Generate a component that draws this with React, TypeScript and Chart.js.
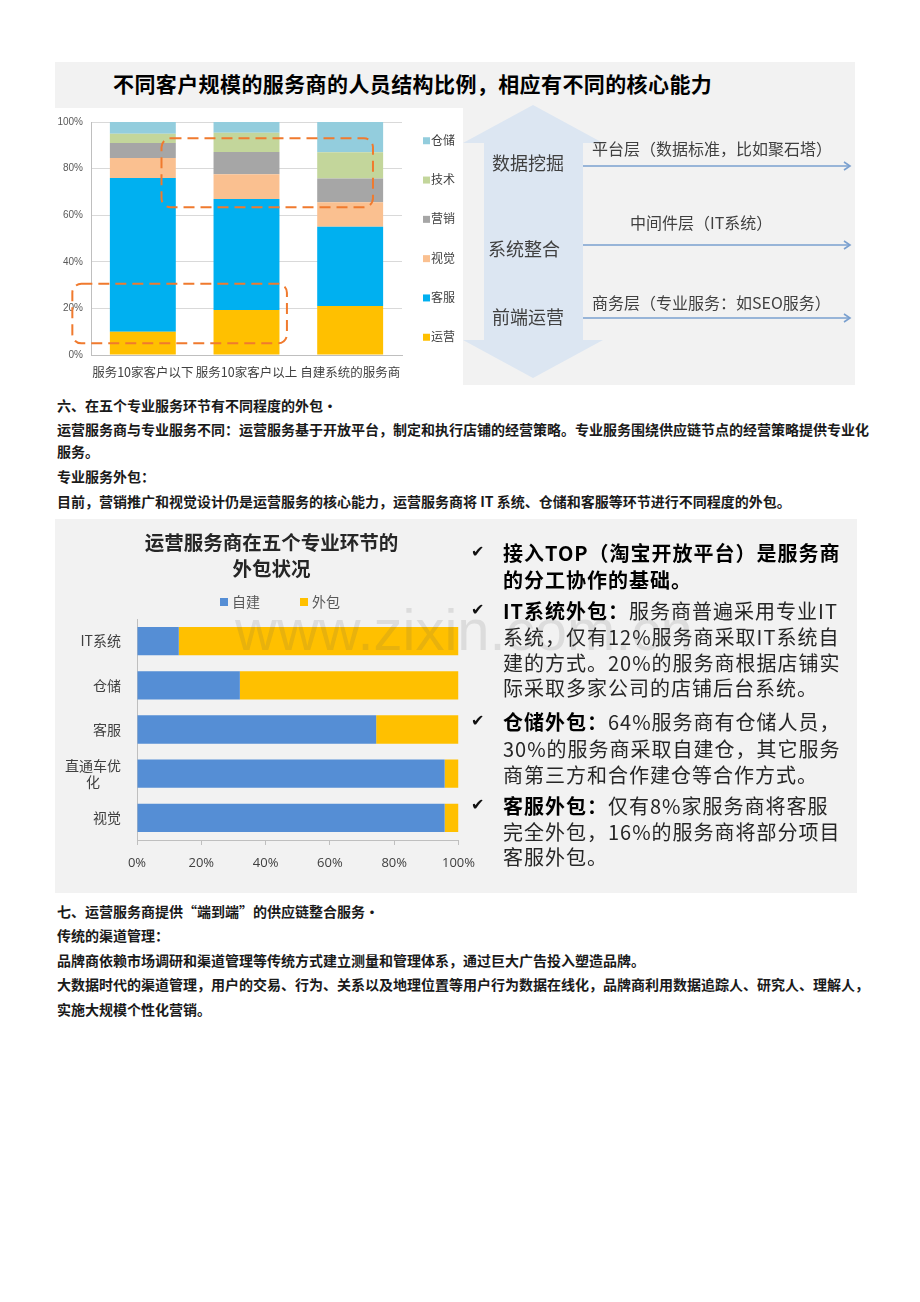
import React, { useEffect, useRef } from 'react';
import { Chart, registerables } from 'chart.js';

Chart.register(...registerables);

const CJK = "'Noto Sans CJK SC', 'Noto Sans', sans-serif";

// ---- Chart 1: staff structure (stacked 100% columns) ----
const staffCategories = ['服务10家客户以下', '服务10家客户以上', '自建系统的服务商'];
const opsShare = [10, 19.3, 21];
const serviceShare = [66, 47.6, 34];
const visualShare = [8.5, 10.7, 10.6];
const marketingShare = [6.5, 9.5, 10.1];
const techShare = [4, 8.3, 11.3];
const warehouseShare = [5, 4.6, 13];
const staffSeriesNames = ['运营', '客服', '视觉', '营销', '技术', '仓储'];
const staffColors = ['#FFC000', '#00B0F0', '#FAC090', '#A6A6A6', '#C3D69B', '#93CDDD'];

// highlight boxes (category index range, value range)
const highlightBoxes = [
  { x0: -0.68, x1: 1.39, y0: 5, y1: 30.6 },
  { x0: 0.18, x1: 2.22, y0: 63.4, y1: 93 },
];

// ---- Chart 2: outsourcing (stacked 100% horizontal bars) ----
const outsourceTitle = ['运营服务商在五个专业环节的', '外包状况'];
const outsourceCategories: (string | string[])[] = ['IT系统', '仓储', '客服', ['直通车优', '化\u3000\u2002'], '视觉'];
const selfBuilt = [13, 32, 74.4, 95.7, 95.7];
const outsourced = [87, 68, 25.6, 4.3, 4.3];
const outsourceSeriesNames = ['自建', '外包'];
const outsourceColors = ['#558ED5', '#FFC000'];

const pctTicks = (v: any) => v + '%';

function Txt(props: { x: number; cy: number; size: number; bold?: boolean; color?: string; ls?: number; children: React.ReactNode; family?: string }) {
  const lh = Math.round(props.size * 1.4);
  return (
    <div
      style={{
        position: 'absolute',
        left: props.x,
        top: props.cy - lh / 2,
        fontSize: props.size,
        lineHeight: lh + 'px',
        fontWeight: props.bold ? 'bold' : 'normal',
        color: props.color || '#000',
        letterSpacing: props.ls ? props.ls + 'px' : undefined,
        whiteSpace: 'nowrap',
        fontFamily: props.family || CJK,
      }}
    >
      {props.children}
    </div>
  );
}

function StaffChart() {
  const ref = useRef<HTMLCanvasElement>(null);
  useEffect(() => {
    if (!ref.current) return;
    const overlay = {
      id: 'staffOverlay',
      afterDatasetsDraw(chart: any) {
        const { ctx, chartArea, scales } = chart;
        ctx.save();
        ctx.strokeStyle = '#F07A2E';
        ctx.lineWidth = 2;
        ctx.setLineDash([11, 6]);
        for (const b of highlightBoxes) {
          const x0 = scales.x.getPixelForValue(b.x0);
          const x1 = scales.x.getPixelForValue(b.x1);
          const yTop = scales.y.getPixelForValue(b.y1);
          const yBot = scales.y.getPixelForValue(b.y0);
          ctx.beginPath();
          ctx.roundRect(x0, yTop, x1 - x0, yBot - yTop, 9);
          ctx.stroke();
        }
        ctx.restore();
        // legend (reversed order, vertical)
        ctx.save();
        const ds = chart.data.datasets;
        const n = ds.length;
        const mid = (chartArea.top + chartArea.bottom) / 2;
        const bx = chartArea.right + 21;
        ctx.font = `12px ${CJK}`;
        ctx.textBaseline = 'middle';
        ctx.textAlign = 'left';
        for (let i = 0; i < n; i++) {
          const d = ds[n - 1 - i];
          const y = mid + (i - (n - 1) / 2) * 39.3;
          ctx.fillStyle = d.backgroundColor;
          ctx.fillRect(bx, y - 3, 7, 7);
          ctx.fillStyle = '#404040';
          ctx.fillText(d.label, bx + 8, y);
        }
        ctx.restore();
      },
    };
    const seriesData = [opsShare, serviceShare, visualShare, marketingShare, techShare, warehouseShare];
    const chart = new Chart(ref.current, {
      type: 'bar',
      data: {
        labels: staffCategories,
        datasets: seriesData.map((d, i) => ({
          label: staffSeriesNames[i],
          data: d,
          backgroundColor: staffColors[i],
          borderWidth: 0,
          barPercentage: 0.636,
          categoryPercentage: 1,
        })),
      },
      options: {
        animation: false,
        responsive: false,
        maintainAspectRatio: false,
        layout: { padding: { top: 8, right: 61, left: 0, bottom: 0 } },
        plugins: { legend: { display: false }, tooltip: { enabled: false }, title: { display: false } },
        scales: {
          x: {
            stacked: true,
            grid: { display: false, drawTicks: false },
            border: { display: true, color: '#bfbfbf' },
            ticks: { font: { size: 12.5, family: CJK }, color: '#404040', padding: 10, maxRotation: 0, minRotation: 0, autoSkip: false },
            afterFit: (s: any) => { s.height = 30; },
          },
          y: {
            stacked: true,
            min: 0,
            max: 100,
            ticks: { stepSize: 20, callback: pctTicks, font: { size: 10, family: 'Liberation Sans' }, color: '#595959', padding: 8 },
            grid: { color: '#d9d9d9', drawTicks: false },
            border: { display: true, color: '#bfbfbf' },
            afterFit: (s: any) => { s.width = 36; },
          },
        },
      },
      plugins: [overlay],
    } as any);
    return () => chart.destroy();
  }, []);
  return (
    <canvas
      ref={ref}
      width={408}
      height={277}
      style={{ position: 'absolute', left: 55, top: 108, width: 408, height: 277, background: '#fff' }}
    />
  );
}

function OutsourceChart() {
  const ref = useRef<HTMLCanvasElement>(null);
  useEffect(() => {
    if (!ref.current) return;
    const overlay = {
      id: 'outsourceOverlay',
      afterDraw(chart: any) {
        const { ctx } = chart;
        ctx.save();
        ctx.fillStyle = '#262626';
        ctx.font = `bold 19.5px ${CJK}`;
        ctx.textAlign = 'center';
        ctx.textBaseline = 'middle';
        outsourceTitle.forEach((t, i) => ctx.fillText(t, 216.5, 24 + i * 25.2));
        const ds = chart.data.datasets;
        const pos = [165, 245];
        ctx.font = `14px ${CJK}`;
        ctx.textAlign = 'left';
        ds.forEach((d: any, i: number) => {
          ctx.fillStyle = d.backgroundColor;
          ctx.fillRect(pos[i], 79, 8, 8);
          ctx.fillStyle = '#595959';
          ctx.fillText(d.label, pos[i] + 12, 83);
        });
        ctx.restore();
      },
    };
    const chart = new Chart(ref.current, {
      type: 'bar',
      data: {
        labels: outsourceCategories,
        datasets: [selfBuilt, outsourced].map((d, i) => ({
          label: outsourceSeriesNames[i],
          data: d,
          backgroundColor: outsourceColors[i],
          borderWidth: 0,
          barPercentage: 0.64,
          categoryPercentage: 1,
        })),
      },
      options: {
        indexAxis: 'y',
        animation: false,
        responsive: false,
        maintainAspectRatio: false,
        layout: { padding: { top: 100, right: 23, left: 0, bottom: 0 } },
        plugins: { legend: { display: false }, tooltip: { enabled: false }, title: { display: false } },
        scales: {
          x: {
            stacked: true,
            min: 0,
            max: 100,
            ticks: { stepSize: 20, callback: pctTicks, font: { size: 13, family: 'Open Sans' }, color: '#404040', padding: 10 },
            grid: { display: true, drawOnChartArea: false, drawTicks: true, tickLength: 5, color: '#bfbfbf' },
            border: { display: true, color: '#bfbfbf' },
            afterFit: (s: any) => { s.height = 53; },
          },
          y: {
            stacked: true,
            grid: { display: false, drawTicks: false },
            border: { display: true, color: '#bfbfbf' },
            ticks: { font: { size: 14, family: CJK }, color: '#404040', padding: 16 },
            afterFit: (s: any) => { s.width = 82; },
          },
        },
      },
      plugins: [overlay],
    } as any);
    return () => chart.destroy();
  }, []);
  return (
    <canvas
      ref={ref}
      width={430}
      height={374}
      style={{ position: 'absolute', left: 55, top: 519, width: 430, height: 374 }}
    />
  );
}

function LayerDiagram() {
  const arrowYs = [66, 145, 218];
  return (
    <svg width={410} height={290} style={{ position: 'absolute', left: 455, top: 100 }}>
      <polygon
        points="78,5 148,43 128,43 128,240 148,240 78,278 8,240 29,240 29,43 8,43"
        fill="#DCE6F2"
      />
      {arrowYs.map((y) => (
        <g key={y}>
          <line x1={128} y1={y} x2={394} y2={y} stroke="#7AA0CF" strokeWidth={1.6} />
          <polyline points={`${389},${y - 4} ${395},${y} ${389},${y + 4}`} fill="none" stroke="#7AA0CF" strokeWidth={1.6} />
        </g>
      ))}
    </svg>
  );
}

const bodyStyle = { size: 14, bold: true, color: '#1a1a1a' };
const CHECK = "'DejaVu Sans', sans-serif";

export default function App() {
  return (
    <div style={{ position: 'absolute', left: 0, top: 0, width: 920, height: 1302, background: '#fff', overflow: 'hidden' }}>
      {/* top panel */}
      <div style={{ position: 'absolute', left: 55, top: 62, width: 800, height: 323, background: '#F2F2F2' }} />
      <Txt x={113} cy={83} size={21} bold ls={0.4}>不同客户规模的服务商的人员结构比例，相应有不同的核心能力</Txt>
      <StaffChart />
      <LayerDiagram />
      <Txt x={492} cy={162} size={18} color="#404040">数据挖掘</Txt>
      <Txt x={488} cy={248} size={18} color="#404040">系统整合</Txt>
      <Txt x={492} cy={316} size={18} color="#404040">前端运营</Txt>
      <Txt x={592} cy={148} size={16} color="#404040">平台层（数据标准，比如聚石塔）</Txt>
      <Txt x={630} cy={222} size={16} color="#404040">中间件层（IT系统）</Txt>
      <Txt x={592} cy={302} size={16} color="#404040">商务层（专业服务：如SEO服务）</Txt>

      {/* section 6 text */}
      <Txt x={57} cy={405} {...bodyStyle}>六、在五个专业服务环节有不同程度的外包•</Txt>
      <Txt x={57} cy={429} {...bodyStyle}>运营服务商与专业服务不同：运营服务基于开放平台，制定和执行店铺的经营策略。专业服务围绕供应链节点的经营策略提供专业化</Txt>
      <Txt x={57} cy={451} {...bodyStyle}>服务。</Txt>
      <Txt x={57} cy={476} {...bodyStyle}>专业服务外包：</Txt>
      <Txt x={57} cy={501} {...bodyStyle}>目前，营销推广和视觉设计仍是运营服务的核心能力，运营服务商将 IT 系统、仓储和客服等环节进行不同程度的外包。</Txt>

      {/* second panel */}
      <div style={{ position: 'absolute', left: 55, top: 519, width: 802, height: 374, background: '#F2F2F2' }} />
      <OutsourceChart />

      <Txt x={471} cy={552} size={16} family={CHECK} color="#111">✔</Txt>
      <Txt x={503} cy={553} size={20} bold ls={1}>接入TOP（淘宝开放平台）是服务商</Txt>
      <Txt x={503} cy={580} size={20} bold ls={1}>的分工协作的基础。</Txt>

      <Txt x={471} cy={610} size={16} family={CHECK} color="#111">✔</Txt>
      <Txt x={503} cy={611} size={20} color="#262626" ls={1}><b style={{ color: '#000' }}>IT系统外包：</b>服务商普遍采用专业IT</Txt>
      <Txt x={503} cy={637} size={20} color="#262626" ls={1}>系统，仅有12%服务商采取IT系统自</Txt>
      <Txt x={503} cy={663} size={20} color="#262626" ls={1}>建的方式。20%的服务商根据店铺实</Txt>
      <Txt x={503} cy={688} size={20} color="#262626" ls={1}>际采取多家公司的店铺后台系统。</Txt>

      <Txt x={471} cy={721} size={16} family={CHECK} color="#111">✔</Txt>
      <Txt x={503} cy={722} size={20} color="#262626" ls={1}><b style={{ color: '#000' }}>仓储外包：</b>64%服务商有仓储人员，</Txt>
      <Txt x={503} cy={749} size={20} color="#262626" ls={1}>30%的服务商采取自建仓，其它服务</Txt>
      <Txt x={503} cy={775} size={20} color="#262626" ls={1}>商第三方和合作建仓等合作方式。</Txt>

      <Txt x={471} cy={805} size={16} family={CHECK} color="#111">✔</Txt>
      <Txt x={503} cy={806} size={20} color="#262626" ls={1}><b style={{ color: '#000' }}>客服外包：</b>仅有8%家服务商将客服</Txt>
      <Txt x={503} cy={832} size={20} color="#262626" ls={1}>完全外包，16%的服务商将部分项目</Txt>
      <Txt x={503} cy={857} size={20} color="#262626" ls={1}>客服外包。</Txt>

      {/* watermark */}
      <div style={{ position: 'absolute', left: 235, top: 601, fontSize: 58, lineHeight: '58px', fontFamily: "'Liberation Sans', sans-serif", color: 'rgba(90,90,90,0.14)', whiteSpace: 'nowrap', pointerEvents: 'none' }}>
        www.zixin.com.cn
      </div>

      {/* section 7 text */}
      <Txt x={57} cy={911} {...bodyStyle}>七、运营服务商提供“端到端”的供应链整合服务•</Txt>
      <Txt x={57} cy={935} {...bodyStyle}>传统的渠道管理：</Txt>
      <Txt x={57} cy={960} {...bodyStyle}>品牌商依赖市场调研和渠道管理等传统方式建立测量和管理体系，通过巨大广告投入塑造品牌。</Txt>
      <Txt x={57} cy={984} {...bodyStyle}>大数据时代的渠道管理，用户的交易、行为、关系以及地理位置等用户行为数据在线化，品牌商利用数据追踪人、研究人、理解人，</Txt>
      <Txt x={57} cy={1009} {...bodyStyle}>实施大规模个性化营销。</Txt>
    </div>
  );
}
